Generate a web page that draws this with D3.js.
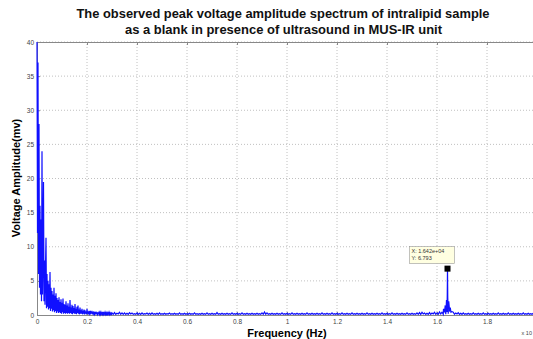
<!DOCTYPE html>
<html>
<head>
<meta charset="utf-8">
<script src="https://cdn.jsdelivr.net/npm/d3@7"></script>
<style>
  body { margin: 0; background: #fff; }
  svg { display: block; font-family: "Liberation Sans", Arial, sans-serif; }
</style>
</head>
<body>
<div id="container"></div>
<script>
const w = 533;
const h = 339;

// frequency axis is in units of 10^4 Hz (the 2.0 tick falls just outside the window)
const xTicks = [0, 0.2, 0.4, 0.6, 0.8, 1, 1.2, 1.4, 1.6, 1.8];
const yTicks = [0, 5, 10, 15, 20, 25, 30, 35, 40];

// low-frequency part, sampled every 0.002 starting at 0
const lowStart = 0;
const lowStep = 0.002;
const lowAmp = [
  40, 12, 37, 6, 28, 4, 16, 3, 14, 2,
  24, 3, 10, 19.5, 2, 8, 1.5, 7, 11.3, 1,
  6, 1.2, 5, 0.8, 4.5, 1, 6.3, 0.6, 4, 0.9,
  3.5, 0.5, 3, 0.7, 4, 0.4, 2.8, 0.6, 3.2, 0.3,
  2.5, 0.5, 2.2, 0.3, 2.6, 0.4, 1.9, 0.3, 2.3, 0.2,
  1.8, 0.4, 2.4, 0.2, 1.6, 0.3, 1.5, 0.2, 2.0, 0.3,
  1.4, 0.2, 1.7, 0.3, 1.2, 0.2, 2.2, 0.3, 1.1, 0.2,
  1.5, 0.1, 1.3, 0.3, 1.0, 0.2, 1.6, 0.2, 0.9, 0.1,
  1.2, 0.3, 1.4, 0.2, 0.8, 0.1, 1.1, 0.2, 0.7, 0.2,
  0.9, 0.1, 0.6, 0.2, 0.8, 0.1, 0.7, 0.2, 0.5, 0.1,
  0.9, 0.2, 0.5, 0.1, 0.6, 0.2, 0.4, 0.1, 0.6, 0.2,
  0.5, 0.1, 0.4, 0.2, 0.5, 0.1, 0.3, 0.2, 0.5, 0.1,
  0.4, 0.1, 0.3, 0.2, 0.4, 0.1, 0.35, 0.1, 0.4, 0.15,
  0.3, 0.1, 0.45, 0.1, 0.3, 0.15, 0.4, 0.1, 0.3, 0.1,
  0.35, 0.1, 0.3, 0.15, 0.4, 0.1, 0.3, 0.1, 0.25, 0.1
];

// baseline from 0.3 to 1.62, sampled every 0.005
const midStart = 0.3;
const midStep = 0.005;
const midAmp = [
  0.3, 0.1, 0.35, 0.1, 0.25, 0.15, 0.4, 0.1, 0.3, 0.1,
  0.3, 0.1, 0.25, 0.1, 0.35, 0.15, 0.3, 0.1, 0.2, 0.1,
  0.3, 0.1, 0.25, 0.1, 0.3, 0.1, 0.2, 0.15, 0.3, 0.1,
  0.25, 0.1, 0.3, 0.1, 0.2, 0.1, 0.25, 0.1, 0.3, 0.1,
  0.2, 0.1, 0.25, 0.1, 0.2, 0.15, 0.3, 0.1, 0.2, 0.1,
  0.25, 0.1, 0.2, 0.1, 0.3, 0.1, 0.2, 0.1, 0.25, 0.1,
  0.2, 0.1, 0.25, 0.1, 0.2, 0.1, 0.3, 0.1, 0.2, 0.1,
  0.2, 0.1, 0.25, 0.1, 0.2, 0.1, 0.3, 0.1, 0.2, 0.1,
  0.25, 0.1, 0.2, 0.1, 0.35, 0.1, 0.2, 0.1, 0.25, 0.1,
  0.2, 0.1, 0.25, 0.1, 0.2, 0.1, 0.3, 0.1, 0.2, 0.1,
  0.25, 0.1, 0.2, 0.1, 0.3, 0.1, 0.2, 0.1, 0.25, 0.1,
  0.2, 0.1, 0.25, 0.1, 0.2, 0.1, 0.25, 0.1, 0.2, 0.1,
  0.3, 0.1, 0.45, 0.1, 0.3, 0.1, 0.2, 0.1, 0.25, 0.1,
  0.2, 0.1, 0.25, 0.1, 0.2, 0.1, 0.3, 0.1, 0.2, 0.1,
  0.25, 0.1, 0.2, 0.1, 0.3, 0.1, 0.2, 0.1, 0.25, 0.1,
  0.2, 0.1, 0.25, 0.1, 0.2, 0.1, 0.3, 0.1, 0.2, 0.1,
  0.25, 0.1, 0.2, 0.1, 0.25, 0.1, 0.2, 0.1, 0.3, 0.1,
  0.2, 0.1, 0.25, 0.1, 0.2, 0.1, 0.3, 0.1, 0.2, 0.1,
  0.25, 0.1, 0.2, 0.1, 0.3, 0.1, 0.2, 0.1, 0.25, 0.1,
  0.2, 0.1, 0.3, 0.1, 0.2, 0.1, 0.25, 0.1, 0.2, 0.1,
  0.25, 0.1, 0.2, 0.1, 0.3, 0.1, 0.2, 0.1, 0.25, 0.1,
  0.2, 0.1, 0.25, 0.1, 0.2, 0.1, 0.3, 0.1, 0.2, 0.1,
  0.25, 0.1, 0.2, 0.1, 0.3, 0.1, 0.2, 0.1, 0.25, 0.1,
  0.2, 0.1, 0.25, 0.1, 0.2, 0.1, 0.3, 0.1, 0.2, 0.1,
  0.25, 0.1, 0.2, 0.1, 0.3, 0.1, 0.35, 0.1, 0.4, 0.15,
  0.3, 0.1, 0.25, 0.1, 0.35, 0.1, 0.3, 0.15, 0.4, 0.1,
  0.3, 0.1, 0.45, 0.15, 0.4, 0.1, 0.5, 0.1, 0.45, 0.2,
  0.5
];

// the ultrasound peak region
const peakFreq = [1.622, 1.626, 1.63, 1.633, 1.636, 1.638, 1.64, 1.641, 1.642, 1.643, 1.645, 1.647, 1.65, 1.653, 1.656, 1.66];
const peakAmp  = [0.3, 0.9, 0.4, 1.4, 0.6, 2.2, 1.3, 2.8, 6.793, 2.6, 1.6, 2.0, 0.8, 1.1, 0.4, 0.5];

// tail after the peak, sampled every 0.005 from 1.665
const tailStart = 1.665;
const tailStep = 0.005;
const tailAmp = [
  0.4, 0.1, 0.3, 0.15, 0.35, 0.1, 0.25, 0.1, 0.3, 0.1,
  0.2, 0.1, 0.25, 0.1, 0.2, 0.1, 0.3, 0.1, 0.2, 0.1,
  0.25, 0.1, 0.2, 0.1, 0.3, 0.1, 0.2, 0.1, 0.25, 0.1,
  0.2, 0.1, 0.25, 0.1, 0.2, 0.1, 0.3, 0.1, 0.2, 0.1,
  0.25, 0.1, 0.2, 0.1, 0.3, 0.1, 0.2, 0.1, 0.25, 0.1,
  0.2, 0.1, 0.25, 0.1, 0.2, 0.1, 0.3, 0.1, 0.2, 0.1,
  0.25, 0.1, 0.2, 0.1, 0.25, 0.1, 0.2
];

const peakX = 1.642;
const peakY = 6.793;

const margin = { left: 37, right: -4, top: 42, bottom: 24 };

const points = [];
lowAmp.forEach((a, i) => points.push([lowStart + i * lowStep, a]));
midAmp.forEach((a, i) => points.push([midStart + i * midStep, a]));
peakFreq.forEach((f, i) => points.push([f, peakAmp[i]]));
tailAmp.forEach((a, i) => points.push([tailStart + i * tailStep, a]));
points.sort((a, b) => a[0] - b[0]);

const xScale = d3.scaleLinear()
  .domain([0, 2])
  .range([margin.left, w - margin.right]);

const yScale = d3.scaleLinear()
  .domain([0, 40])
  .range([h - margin.bottom, margin.top]);

const svg = d3.select("#container")
  .append("svg")
  .attr("width", w)
  .attr("height", h);

// dotted grid
svg.append("g")
  .selectAll("line")
  .data(xTicks.slice(1))
  .join("line")
  .attr("x1", d => xScale(d))
  .attr("x2", d => xScale(d))
  .attr("y1", yScale(0))
  .attr("y2", yScale(40))
  .attr("stroke", "#b0b0b0")
  .attr("stroke-width", 0.8)
  .attr("stroke-dasharray", "1,2");

svg.append("g")
  .selectAll("line")
  .data(yTicks.slice(1))
  .join("line")
  .attr("x1", xScale(0))
  .attr("x2", xScale(2))
  .attr("y1", d => yScale(d))
  .attr("y2", d => yScale(d))
  .attr("stroke", "#b0b0b0")
  .attr("stroke-width", 0.8)
  .attr("stroke-dasharray", "1,2");

// axes
const xAxis = svg.append("g")
  .attr("transform", "translate(0," + yScale(0) + ")")
  .call(d3.axisBottom(xScale).tickValues(xTicks).tickFormat(d3.format("")).tickSizeInner(-3).tickSizeOuter(0).tickPadding(4));

const xAxisTop = svg.append("g")
  .attr("transform", "translate(0," + yScale(40) + ")")
  .call(d3.axisTop(xScale).tickValues(xTicks).tickFormat("").tickSizeInner(-3).tickSizeOuter(0));

const yAxis = svg.append("g")
  .attr("transform", "translate(" + xScale(0) + ",0)")
  .call(d3.axisLeft(yScale).tickValues(yTicks).tickSizeInner(-3).tickSizeOuter(0).tickPadding(3));

[xAxis, xAxisTop, yAxis].forEach(g => {
  g.select(".domain").attr("stroke", "#888").attr("stroke-width", 1);
  g.selectAll(".tick line").attr("stroke", "#888");
  g.selectAll("text").attr("fill", "#444").style("font-size", "6.5px");
});

// spectrum
svg.append("path")
  .datum(points)
  .attr("fill", "none")
  .attr("stroke", "#1010ff")
  .attr("stroke-width", 1.2)
  .attr("d", d3.line().x(d => xScale(d[0])).y(d => yScale(d[1])));

// data tip
const tipX = xScale(peakX);
const tipY = yScale(peakY);
svg.append("rect")
  .attr("x", tipX - 3)
  .attr("y", tipY - 3)
  .attr("width", 6)
  .attr("height", 6)
  .attr("fill", "#000");

svg.append("rect")
  .attr("x", tipX - 38)
  .attr("y", tipY - 22)
  .attr("width", 45)
  .attr("height", 17)
  .attr("fill", "#ffffe1")
  .attr("stroke", "#999")
  .attr("stroke-width", 0.6);

svg.append("text")
  .attr("x", tipX - 36)
  .attr("y", tipY - 15.5)
  .attr("fill", "#333")
  .style("font-size", "5.5px")
  .text("X: 1.642e+04");

svg.append("text")
  .attr("x", tipX - 36)
  .attr("y", tipY - 8.5)
  .attr("fill", "#333")
  .style("font-size", "5.5px")
  .text("Y: 6.793");

// titles
const title = svg.append("g").attr("font-weight", "bold").attr("fill", "#111");
title.append("text")
  .attr("x", 283)
  .attr("y", 18)
  .attr("text-anchor", "middle")
  .style("font-size", "12.5px")
  .attr("textLength", 413)
  .attr("lengthAdjust", "spacingAndGlyphs")
  .text("The observed peak voltage amplitude spectrum of intralipid sample");
title.append("text")
  .attr("x", 283.5)
  .attr("y", 34)
  .attr("text-anchor", "middle")
  .style("font-size", "12.5px")
  .attr("textLength", 317)
  .attr("lengthAdjust", "spacingAndGlyphs")
  .text("as a blank in presence of ultrasound in MUS-IR unit");

svg.append("text")
  .attr("x", 287)
  .attr("y", 337)
  .attr("text-anchor", "middle")
  .attr("font-weight", "bold")
  .style("font-size", "11px")
  .text("Frequency (Hz)");

svg.append("text")
  .attr("transform", "translate(20,178) rotate(-90)")
  .attr("text-anchor", "middle")
  .attr("font-weight", "bold")
  .style("font-size", "11px")
  .text("Voltage Amplitude(mv)");

svg.append("text")
  .attr("x", 532)
  .attr("y", 335)
  .attr("text-anchor", "end")
  .attr("fill", "#444")
  .style("font-size", "5.5px")
  .text("x 10");
</script>
</body>
</html>
